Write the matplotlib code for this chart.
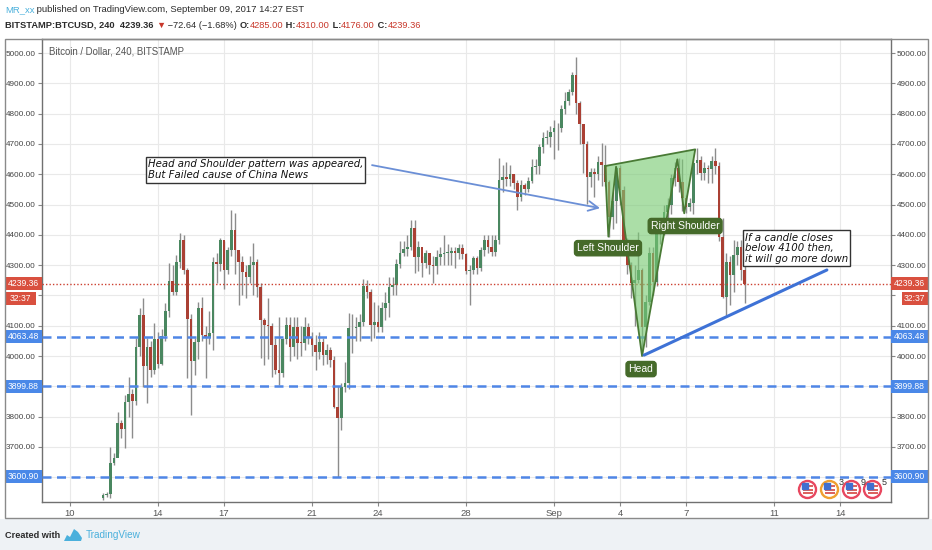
import matplotlib
matplotlib.use('Agg')
import matplotlib.pyplot as plt
import matplotlib.dates as mdates
import matplotlib.transforms as mtransforms
from matplotlib.patches import Rectangle, Polygon
from matplotlib.ticker import FuncFormatter
import pandas as pd
import numpy as np

W, H = 932, 550

# 4h candles, BITSTAMP:BTCUSD
candle_start = '2017-08-11 12:00'
first_open = 3532
close = [3540, 3545, 3646, 3665, 3778, 3758, 3850, 3875, 3853, 4029,
         4135, 3967, 4030, 3955, 4055, 3975, 4065, 4150, 4249, 4212,
         4311, 4383, 4284, 4121, 3985, 4047, 4158, 4070, 4059, 4075,
         4311, 4304, 4383, 4284, 4350, 4416, 4350, 4311, 4278, 4260,
         4300, 4311, 4229, 4119, 4102, 4100, 4036, 3954, 3945, 4056,
         4102, 4031, 4097, 4044, 4042, 4095, 4059, 4037, 4015, 4048,
         4004, 4020, 3987, 3833, 3795, 3899, 3910, 4091, 4094, 4097,
         4114, 4231, 4212, 4102, 4114, 4095, 4158, 4174, 4229, 4235,
         4304, 4339, 4352, 4359, 4421, 4328, 4359, 4306, 4339, 4300,
         4297, 4326, 4337, 4339, 4341, 4348, 4339, 4355, 4337, 4282,
         4284, 4322, 4290, 4350, 4383, 4361, 4344, 4383, 4581, 4592,
         4583, 4601, 4570, 4526, 4564, 4550, 4579, 4625, 4628, 4691,
         4718, 4724, 4740, 4751, 4752, 4814, 4843, 4872, 4927, 4834,
         4766, 4700, 4592, 4608, 4600, 4641, 4630, 4575, 4460, 4510,
         4619, 4548, 4372, 4300, 4240, 4250, 4284, 4097, 4180, 4339,
         4245, 4405, 4421, 4476, 4498, 4586, 4619, 4575, 4520, 4493,
         4505, 4636, 4647, 4603, 4619, 4616, 4645, 4627, 4394, 4196,
         4311, 4268, 4333, 4361, 4285, 4239.36]
high = [3548, 3552, 3701, 3680, 3816, 3790, 3870, 3932, 3890, 4060,
        4157, 4190, 4060, 4050, 4110, 4080, 4090, 4175, 4306, 4300,
        4333, 4405, 4400, 4290, 4140, 4060, 4180, 4196, 4100, 4150,
        4328, 4340, 4390, 4380, 4360, 4482, 4471, 4340, 4330, 4300,
        4330, 4372, 4320, 4240, 4125, 4190, 4110, 4060, 4130, 4060,
        4130, 4130, 4130, 4130, 4100, 4130, 4110, 4080, 4070, 4080,
        4060, 4040, 4030, 4000, 3900, 3910, 3981, 4141, 4140, 4130,
        4140, 4253, 4250, 4220, 4180, 4170, 4180, 4210, 4260, 4260,
        4320, 4380, 4380, 4400, 4449, 4450, 4380, 4330, 4350, 4340,
        4330, 4350, 4360, 4399, 4370, 4360, 4360, 4370, 4370, 4340,
        4300, 4330, 4330, 4360, 4400, 4400, 4400, 4400, 4652, 4630,
        4641, 4630, 4600, 4580, 4580, 4570, 4590, 4650, 4650, 4700,
        4740, 4746, 4760, 4779, 4770, 4830, 4870, 4880, 4938, 4988,
        4840, 4720, 4710, 4620, 4620, 4660, 4702, 4696, 4580, 4540,
        4625, 4630, 4560, 4390, 4310, 4300, 4410, 4290, 4200, 4360,
        4360, 4420, 4440, 4500, 4520, 4600, 4640, 4652, 4650, 4530,
        4520, 4650, 4685, 4660, 4640, 4630, 4660, 4685, 4640, 4454,
        4340, 4330, 4383, 4380, 4383, 4310]
low = [3525, 3534, 3530, 3640, 3680, 3728, 3695, 3800, 3728, 3840,
       4000, 3899, 3844, 3930, 3940, 3960, 3970, 4050, 4130, 4200,
       4200, 4290, 4270, 3927, 3806, 3937, 3990, 4050, 3927, 4040,
       4020, 4240, 4280, 4220, 4270, 4330, 4270, 4170, 4200, 4190,
       4240, 4200, 4195, 3992, 3970, 3990, 3932, 3940, 3904, 3932,
       4040, 3985, 4000, 3989, 4000, 4020, 4040, 4000, 3954, 3990,
       3970, 3975, 3965, 3830, 3602, 3756, 3880, 3890, 4010, 4050,
       4050, 4100, 4190, 4050, 4060, 4080, 4080, 4120, 4130, 4200,
       4200, 4290, 4330, 4330, 4350, 4273, 4280, 4260, 4290, 4270,
       4240, 4270, 4300, 4300, 4300, 4300, 4290, 4320, 4320, 4270,
       4168, 4270, 4270, 4280, 4330, 4340, 4330, 4330, 4370, 4540,
       4560, 4560, 4550, 4482, 4510, 4530, 4540, 4570, 4600, 4600,
       4670, 4700, 4690, 4650, 4680, 4740, 4800, 4830, 4860, 4800,
       4700, 4603, 4502, 4557, 4525, 4580, 4560, 4560, 4394, 4420,
       4440, 4500, 4360, 4270, 4190, 4100, 4240, 4003, 4030, 4170,
       4200, 4230, 4370, 4400, 4450, 4470, 4560, 4540, 4480, 4471,
       4480, 4470, 4600, 4580, 4580, 4570, 4570, 4600, 4380, 4190,
       4135, 4170, 4210, 4300, 4250, 4176]

levels = [4063.48, 3899.88, 3600.90]
last_price = 4239.36
countdown = '32:37'

tick_dates = ['2017-08-10', '2017-08-14', '2017-08-17', '2017-08-21', '2017-08-24',
              '2017-08-28', '2017-09-01', '2017-09-04', '2017-09-07', '2017-09-11',
              '2017-09-14']
tick_labels = ['10', '14', '17', '21', '24', '28', 'Sep', '4', '7', '11', '14']
hidden_price_ticks = [3600, 3900, 4200]   # covered by the scale labels

# head & shoulders drawing
hs_times = ['2017-09-03 07:40', '2017-09-03 11:15', '2017-09-03 19:40', '2017-09-05 00:00',
            '2017-09-06 14:30', '2017-09-06 22:00', '2017-09-07 10:00']
hs_prices = [4627, 4394, 4625, 4000, 4649, 4471, 4682]
hs_labels = ['Left Shoulder', 'Head', 'Right Shoulder']
hs_label_times = ['2017-09-03 10:50', '2017-09-04 22:55', '2017-09-06 23:00']
hs_label_prices = [4356, 3957, 4429]

trend_times = ['2017-09-05 02:10', '2017-09-13 09:35']
trend_prices = [4003, 4284]

arrow_from = ('2017-08-23 17:30', 4630)
arrow_to = ('2017-09-03 02:10', 4488)

note1 = 'Head and Shoulder pattern was appeared,\nBut Failed cause of China News'
note1_at = ('2017-08-13 13:00', 4614)
note2 = 'If a candle closes\nbelow 4100 then,\nit will go more down'
note2_at = ('2017-09-09 16:20', 4356)

event_times = ['2017-09-12 12:00', '2017-09-13 12:00', '2017-09-14 12:00', '2017-09-15 11:00']
event_counts = ['', '3', '9', '5']
event_rings = ['#e8475f', '#f0a030', '#e8475f', '#e8475f']

fam = ['Liberation Sans', 'DejaVu Sans']

up_col = '#4a8760'
dn_col = '#aa4034'
wick_col = '#8c8c8c'
blue = '#4f86e6'
red = '#cc3f2f'


def dn(s):
    return mdates.date2num(pd.Timestamp(s))


fig = plt.figure(figsize=(W / 100, H / 100), dpi=100)
fig.patch.set_facecolor('white')

# bottom strip
fig.add_artist(Rectangle((0, 0), 1, 31 / H, transform=fig.transFigure,
                         facecolor='#eef2f5', edgecolor='none', zorder=0))

ax = fig.add_axes([42 / W, 48 / H, 848.7 / W, 463 / H])
ax.set_facecolor('white')

t = pd.date_range(candle_start, periods=len(close), freq='4h')
x = mdates.date2num(t)
c = np.array(close, dtype=float)
o = np.concatenate([[first_open], c[:-1]])
hi = np.array(high, dtype=float)
lo = np.array(low, dtype=float)
up = c >= o
bw = 0.115

ax.vlines(x, lo, hi, color=wick_col, lw=1, zorder=3)
body_lo = np.minimum(o, c)
body_h = np.maximum(np.abs(c - o), 3)
ax.bar(x[up], body_h[up], bottom=body_lo[up], width=bw, color=up_col, zorder=4, linewidth=0)
ax.bar(x[~up], body_h[~up], bottom=body_lo[~up], width=bw, color=dn_col, zorder=4, linewidth=0)

x0 = dn('2017-08-10')
ax.set_xlim(x0 - 1.27, x0 + 37.3)
ax.set_ylim(3518.4, 5046.2)

ax.set_yticks(np.arange(3600, 5001, 100))
ax.yaxis.set_major_formatter(
    FuncFormatter(lambda v, p: '' if round(v) in hidden_price_ticks else f'{v:.2f}'))
ax.set_xticks([dn(d) for d in tick_dates])
ax.set_xticklabels(tick_labels)
ax.grid(True, color='#e9e9e9', lw=0.8, zorder=0)
ax.set_axisbelow(True)
ax.tick_params(axis='y', left=True, right=True, labelleft=True, labelright=True,
               length=3, pad=1.5, color='#888888', labelcolor='#444444', labelsize=5.9)
ax.tick_params(axis='x', length=3, pad=2, color='#888888', labelcolor='#555555', labelsize=6.8)
for axis in (ax.xaxis, ax.yaxis):
    for tk in axis.get_major_ticks():
        tk.label1.set_family(fam)
        tk.label2.set_family(fam)
for s in ax.spines.values():
    s.set_color('#707070')
    s.set_linewidth(1)

# outer frame
fig.add_artist(Rectangle((4.7 / W, 32 / H), 923 / W, 479 / H, transform=fig.transFigure,
                         facecolor='none', edgecolor='#8a8a8a', lw=1, zorder=10))

ax.text(7 / 848.7, 1 - 13 / 463, 'Bitcoin / Dollar, 240, BITSTAMP', transform=ax.transAxes,
        fontsize=6.9, color='#555555', family=fam, va='center', ha='left')

# horizontal levels
for lv in levels:
    ax.axhline(lv, color=blue, lw=1.8, dashes=(3.6, 2.2), zorder=5)
ax.axhline(last_price, color=red, lw=1, ls=(0, (1, 1.5)), zorder=5)

# pattern
hx = [dn(s) for s in hs_times]
ax.add_patch(Polygon(list(zip(hx, hs_prices)), closed=True, facecolor='#78ca72', alpha=0.62,
                     edgecolor='none', zorder=6))
ax.plot(hx + [hx[0]], hs_prices + [hs_prices[0]], color='#497a35', lw=1.3, zorder=7)
for s, tt, pp in zip(hs_labels, hs_label_times, hs_label_prices):
    ax.text(dn(tt), pp, s, ha='center', va='center', fontsize=7.5, color='white',
            family=fam, zorder=9,
            bbox=dict(boxstyle='round,pad=0.25,rounding_size=0.3', fc='#456a2a', ec='#456a2a'))

ax.plot([dn(s) for s in trend_times], trend_prices, color='#3e72d6', lw=2.2,
        solid_capstyle='round', zorder=7)

ax.annotate('', xy=(dn(arrow_to[0]), arrow_to[1]), xytext=(dn(arrow_from[0]), arrow_from[1]),
            arrowprops=dict(arrowstyle='->,head_length=0.7,head_width=0.35', color='#6b8fd6',
                            lw=1.3, shrinkA=0, shrinkB=0), zorder=8)

ax.text(dn(note1_at[0]), note1_at[1], note1, ha='left', va='center', fontsize=7.3, style='italic',
        family='DejaVu Sans', color='#111111', linespacing=1.12, zorder=9,
        bbox=dict(boxstyle='square,pad=0.22', fc='white', ec='#333333', lw=1))
ax.text(dn(note2_at[0]), note2_at[1], note2, ha='left', va='center', fontsize=7.3, style='italic',
        family='DejaVu Sans', color='#111111', linespacing=1.08, zorder=9,
        bbox=dict(boxstyle='square,pad=0.22', fc='white', ec='#333333', lw=1))

# economic events
for tt, cnt, ring in zip(event_times, event_counts, event_rings):
    ex = dn(tt)
    ey = 3518.4 + 13 / 0.30305
    ax.scatter([ex], [ey], s=150, facecolor='white', edgecolor=ring, lw=1.7, zorder=9, clip_on=False)
    for dy in (1.8, -0.4, -2.6):
        tr = mtransforms.offset_copy(ax.transData, fig=fig, x=0.8, y=dy, units='points')
        ax.plot([ex], [ey], marker='_', ms=7.5, mew=1.3, color='#d9534f', transform=tr, zorder=10)
    tr = mtransforms.offset_copy(ax.transData, fig=fig, x=-1.8, y=1.8, units='points')
    ax.plot([ex], [ey], marker='s', ms=4, color='#3f6fcf', transform=tr, zorder=11)
    if cnt:
        tr = mtransforms.offset_copy(ax.transData, fig=fig, x=7, y=4.5, units='points')
        ax.text(ex, ey, cnt, transform=tr, fontsize=6.5, color='#333333', family=fam,
                ha='left', va='center', zorder=11)

# price scale labels
trans = mtransforms.blended_transform_factory(fig.transFigure, ax.transData)
bh = 13 / 0.30305


def scale_label(lv, txt, fc, lx0, lx1):
    ax.add_patch(Rectangle((lx0 / W, lv - bh / 2), (lx1 - lx0) / W, bh, transform=trans,
                           facecolor=fc, edgecolor='none', clip_on=False, zorder=12))
    ax.text((lx0 + lx1) / 2 / W, lv, txt, transform=trans, ha='center', va='center',
            fontsize=6.2, color='white', family=fam, zorder=13, clip_on=False)


for lv in levels:
    scale_label(lv, f'{lv:.2f}', '#4a88e8', 5, 41.5)
    scale_label(lv, f'{lv:.2f}', '#4a88e8', 891, 927.5)
scale_label(last_price, f'{last_price:.2f}', '#d9503f', 5, 41.5)
scale_label(last_price, f'{last_price:.2f}', '#d9503f', 891, 927.5)
scale_label(last_price - 15 / 0.30305, countdown, '#d9503f', 5, 36)
scale_label(last_price - 15 / 0.30305, countdown, '#d9503f', 901.5, 927.5)

# header
renderer = fig.canvas.get_renderer()


def runs(px, py, parts, size):
    for s, col, wt in parts:
        tx = fig.text(px / W, 1 - py / H, s, color=col, fontsize=size, fontweight=wt,
                      family=fam, ha='left', va='center')
        px = tx.get_window_extent(renderer).x1 * 100 / fig.dpi


dark = '#2b2b2b'
hred = '#c8382b'
runs(5, 10, [('MR_xx', '#4ab0dc', 'normal'),
             (' published on TradingView.com, September 09, 2017 14:27 EST', dark, 'normal')], 6.8)
runs(5, 25, [('BITSTAMP:BTCUSD, 240  4239.36 ', dark, 'bold'), ('\u25bc', hred, 'normal'),
             (' \u221272.64 (\u22121.68%) ', dark, 'normal'), ('O:', dark, 'bold'),
             ('4285.00', hred, 'normal'), (' H:', dark, 'bold'), ('4310.00', hred, 'normal'),
             (' L:', dark, 'bold'), ('4176.00', hred, 'normal'), (' C:', dark, 'bold'),
             ('4239.36', hred, 'normal')], 6.7)

# footer
runs(5, 535, [('Created with', dark, 'bold')], 6.6)
logo = [(64, 541), (67, 535), (70, 537), (74, 529), (78, 532), (82, 538), (81, 541)]
fig.add_artist(Polygon([(px / W, 1 - py / H) for px, py in logo], closed=True,
                       transform=fig.transFigure, facecolor='#4ab0dc', edgecolor='none'))
runs(86, 535, [('TradingView', '#4ab0dc', 'normal')], 7.2)

fig.savefig('out.png', dpi=100)
